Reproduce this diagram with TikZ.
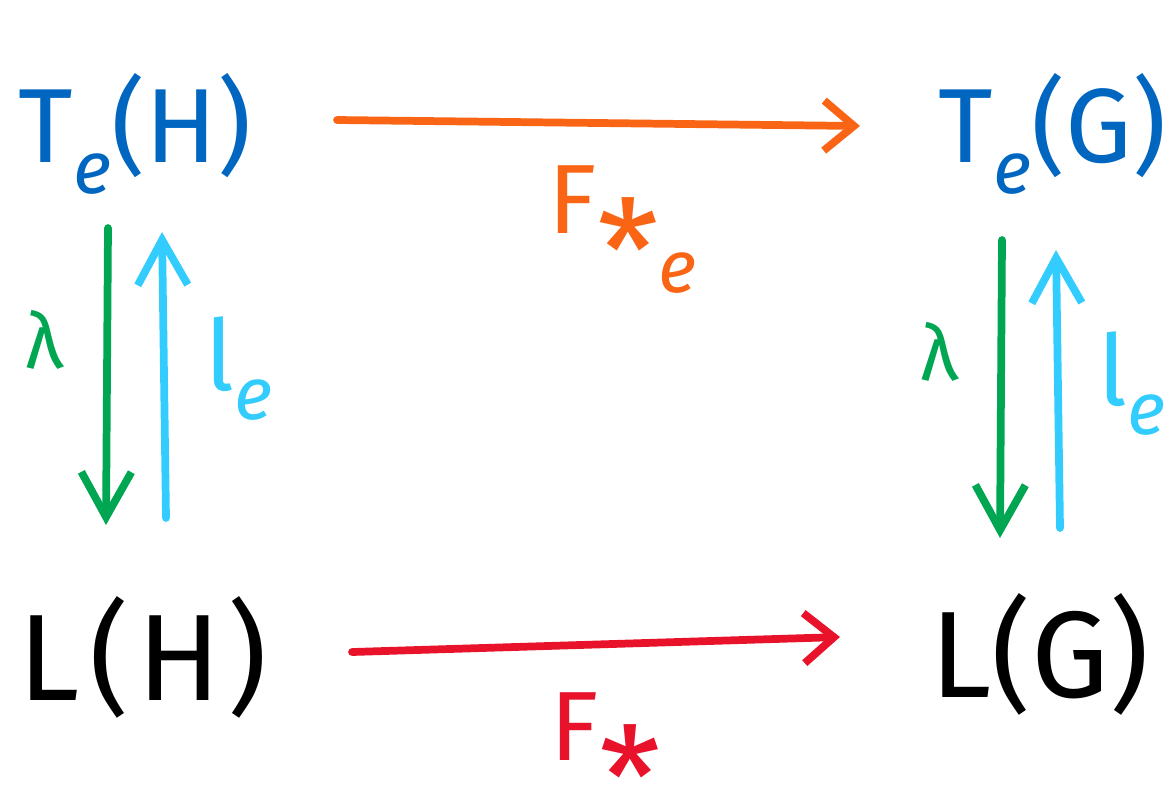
\documentclass[tikz,border=0pt]{standalone}
\usepackage{fontspec}
\setmainfont{Fira Sans}
\usetikzlibrary{arrows.meta}
\definecolor{cblue}{RGB}{0,102,192}
\definecolor{corange}{RGB}{249,101,21}
\definecolor{cgreen}{RGB}{0,166,81}
\definecolor{clblue}{RGB}{51,204,255}
\definecolor{cred}{RGB}{232,19,42}
\tikzset{
  obj/.style={inner sep=0pt, anchor=base west, font=\fontsize{30}{36}\selectfont},
  big/.style={obj, font=\fontsize{35}{42}\selectfont},
  lab/.style={inner sep=0pt, anchor=base west, font=\fontsize{28}{34}\selectfont},
  arr/.style={line width=2.2pt, line cap=round, line join=round,
    -{Straight Barb[length=3mm, width=5mm, line width=2.2pt]}},
  varr/.style={arr, -{Straight Barb[length=4.5mm, width=5mm, line width=2.2pt]}}
}
\newcommand{\sbe}{\raisebox{-0.3em}{\fontsize{21}{25}\selectfont\itshape e}}
\newcommand{\bigast}{\raisebox{-0.7em}{\fontsize{40}{40}\selectfont\mdseries *}}
\begin{document}
\begin{tikzpicture}[x=0.1mm, y=-0.1mm]
\useasboundingbox (0,0) rectangle (1171,807);
% objects
\node[obj, text=cblue] (TH) at (18,162) {T\sbe(H)};
\node[obj, text=cblue] (TG) at (938,162) {T\sbe(G)};
\node[big, text=black] (LH) at (18,700) {L\hspace{0.08em}(\hspace{0.06em}H\hspace{0.06em})};
\node[big, text=black] (LG) at (930,697) {L(G)};
% arrow endpoints
\coordinate (o1) at (337,120); \coordinate (o2) at (860,126);
\coordinate (r1) at (352,652); \coordinate (r2) at (840,637);
\coordinate (g1) at (108,228); \coordinate (g2) at (106,525);
\coordinate (b1) at (166,518); \coordinate (b2) at (162,232);
\coordinate (g3) at (1002,240); \coordinate (g4) at (1000,538);
\coordinate (b3) at (1060,528); \coordinate (b4) at (1056,250);
\draw[arr, corange] (o1) -- (o2);
\draw[arr, cred] (r1) -- (r2);
\draw[varr, cgreen] (g1) -- (g2);
\draw[varr, clblue] (b1) -- (b2);
\draw[varr, cgreen] (g3) -- (g4);
\draw[varr, clblue] (b3) -- (b4);
% labels
\node[lab, text=corange] (Fe) at (548,233) {F\bigast\raisebox{-0.6em}{\fontsize{21}{25}\selectfont\itshape e}};
\node[lab, text=cred] (Fs) at (550,760) {F\bigast};
\node[lab, text=cgreen, font=\fontsize{22}{26}\selectfont] (lamL) at (25,368) {λ};
\node[lab, text=cgreen, font=\fontsize{22}{26}\selectfont] (lamR) at (920,380) {λ};
\node[lab, text=clblue] (leL) at (205,390) {l\sbe};
\node[lab, text=clblue] (leR) at (1098,405) {l\sbe};
\end{tikzpicture}
\end{document}
